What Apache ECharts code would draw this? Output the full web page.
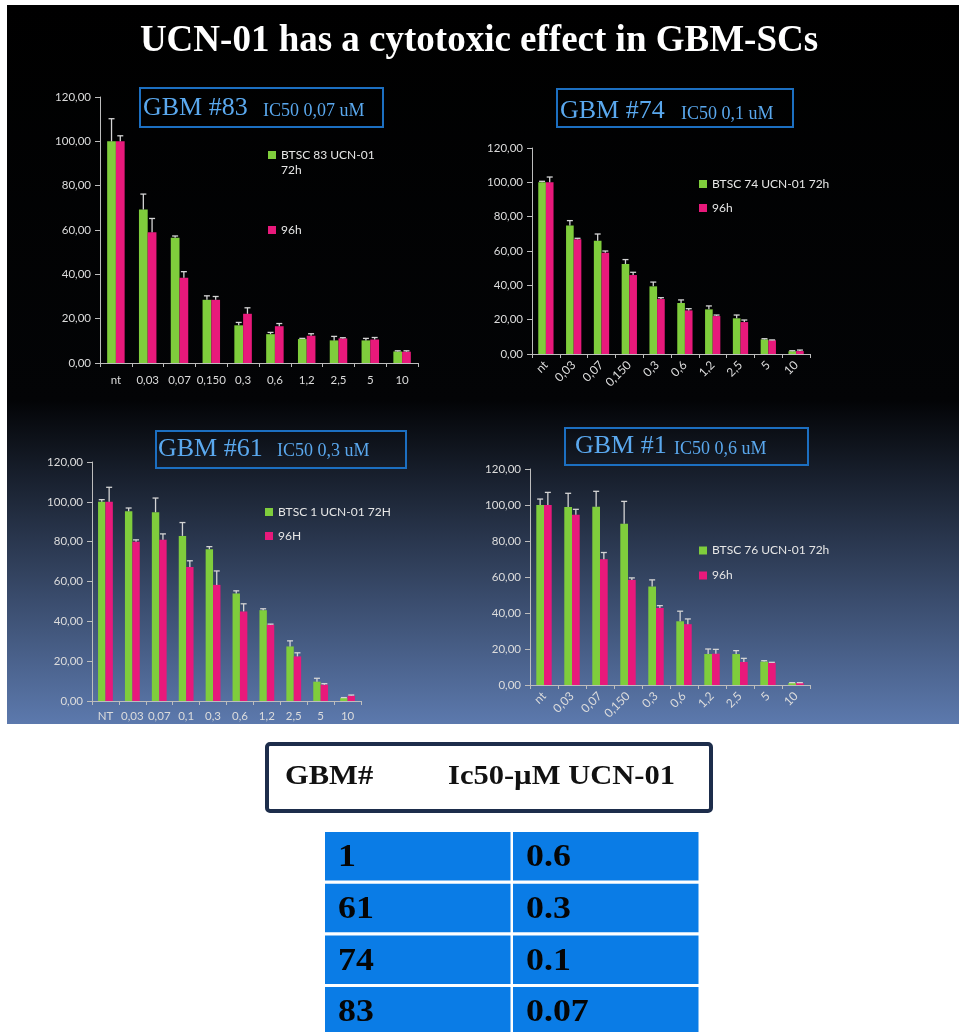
<!DOCTYPE html>
<html>
<head>
<meta charset="utf-8">
<script src="https://cdn.jsdelivr.net/npm/echarts@6/dist/echarts.min.js"></script>
<style>
  html, body { margin: 0; padding: 0; background: #ffffff; }
  #chart { width: 959px; height: 1032px; }
</style>
</head>
<body>
<div id="chart"></div>
<script>
// ---------- data ----------
const pageTitle = 'UCN-01 has a cytotoxic effect in GBM-SCs';
const yTickLabels = ['0,00', '20,00', '40,00', '60,00', '80,00', '100,00', '120,00'];

// GBM #83
const doses83 = ['nt', '0,03', '0,07', '0,150', '0,3', '0,6', '1,2', '2,5', '5', '10'];
const names83 = ['BTSC 83 UCN-01 72h', '96h'];
const h72_83 = [100, 69.3, 56.5, 28.5, 17.0, 13.0, 10.8, 10.2, 10.2, 5.2];
const h72err83 = [10.2, 6.9, 0.8, 1.8, 1.3, 0.8, 0.3, 1.8, 0.9, 0.3];
const h96_83 = [100, 59.0, 38.5, 28.5, 22.2, 16.6, 12.3, 11.1, 10.6, 5.1];
const h96err83 = [2.5, 6.2, 2.7, 1.5, 2.7, 1.2, 0.9, 0.3, 0.9, 0.4];

// GBM #74
const doses74 = ['nt', '0,03', '0,07', '0,150', '0,3', '0,6', '1,2', '2,5', '5', '10'];
const names74 = ['BTSC 74 UCN-01 72h', '96h'];
const h72_74 = [100, 74.8, 66.0, 52.4, 39.4, 29.7, 26.0, 20.8, 8.5, 1.6];
const h72err74 = [0.6, 2.9, 3.9, 2.6, 2.5, 1.8, 2.0, 1.9, 0.4, 0.3];
const h96_74 = [100, 66.8, 59.0, 46.0, 32.0, 25.4, 22.1, 18.6, 8.0, 1.7];
const h96err74 = [3.1, 0.6, 1.0, 1.6, 0.8, 1.0, 0.6, 1.2, 0.2, 0.6];

// GBM #61
const doses61 = ['NT', '0,03', '0,07', '0,1', '0,3', '0,6', '1,2', '2,5', '5', '10'];
const names61 = ['BTSC 1 UCN-01 72H', '96H'];
const h72_61 = [100, 95.3, 94.8, 82.9, 76.2, 54.0, 45.6, 27.4, 9.7, 1.5];
const h72err61 = [1.1, 1.6, 7.1, 6.7, 1.3, 1.3, 0.7, 2.8, 1.7, 0.2];
const h96_61 = [100, 80.0, 81.0, 67.3, 58.3, 45.0, 38.3, 22.4, 8.2, 2.7];
const h96err61 = [7.3, 0.9, 2.9, 3.1, 7.0, 3.8, 0.3, 1.8, 0.5, 0.3];

// GBM #1
const doses1 = ['nt', '0,03', '0,07', '0,150', '0,3', '0,6', '1,2', '2,5', '5', '10'];
const names1 = ['BTSC 76 UCN-01 72h', '96h'];
const h72_1 = [100, 98.9, 99.0, 89.6, 54.7, 35.4, 17.2, 17.2, 13.0, 1.1];
const h72err1 = [3.3, 7.6, 8.6, 12.4, 3.7, 5.6, 2.8, 1.9, 0.5, 0.2];
const h96_1 = [100, 94.6, 69.9, 58.4, 42.8, 33.8, 17.4, 12.8, 12.4, 1.1];
const h96err1 = [7.0, 3.0, 3.7, 1.1, 1.3, 2.9, 2.4, 2.0, 0.2, 0.2];

// IC50 summary table
const tableHeader = ['GBM#', 'Ic50-\u00b5M UCN-01'];
const tableGbm = ['1', '61', '74', '83'];
const tableIc50 = ['0.6', '0.3', '0.1', '0.07'];

// panel headings
const panelHeads = [
  ['GBM #83', 'IC50 0,07 uM'],
  ['GBM #74', 'IC50 0,1 uM'],
  ['GBM #61', 'IC50 0,3 uM'],
  ['GBM #1', 'IC50 0,6 uM']
];

// ---------- styling ----------
const GREEN = '#7fcd3c';
const PINK = '#e8197b';
const AXIS = '#bdbdbd';
const LABEL = '#dcdcdc';
const WHISKER = '#d4d4d4';
const HEAD_BLUE = '#5aa8ee';
const BOX_BLUE = '#1c6fc1';
const SANS = 'Lato, "Open Sans", sans-serif';
const SERIF = '"Liberation Serif", "Times New Roman", serif';
const CAT_GAP = 0.45;

// layout of the four panels
const panels = [
  { cats: doses83, names: names83, g: h72_83, ge: h72err83, p: h96_83, pe: h96err83,
    grid: { left: 100, top: 97, width: 318, height: 266 }, rotate: 0, margin: 11,
    legend: [[268, 155], [268, 230]], wrapFirst: true,
    box: [140, 88, 243, 39], head: [143, 263, 117] },
  { cats: doses74, names: names74, g: h72_74, ge: h72err74, p: h96_74, pe: h96err74,
    grid: { left: 532, top: 148, width: 278, height: 206 }, rotate: 45, margin: 9,
    legend: [[699, 184], [699, 208]], wrapFirst: false,
    box: [557, 89, 236, 38], head: [560, 681, 120] },
  { cats: doses61, names: names61, g: h72_61, ge: h72err61, p: h96_61, pe: h96err61,
    grid: { left: 92, top: 462, width: 269, height: 239 }, rotate: 0, margin: 9,
    legend: [[265, 512], [265, 536]], wrapFirst: false,
    box: [156, 431, 250, 37], head: [158, 277, 457.5] },
  { cats: doses1, names: names1, g: h72_1, ge: h72err1, p: h96_1, pe: h96err1,
    grid: { left: 530, top: 469, width: 280, height: 216 }, rotate: 45, margin: 9,
    legend: [[699, 550.5], [699, 575.5]], wrapFirst: false,
    box: [565, 428, 243, 37], head: [575, 674, 455] }
];

// upper whisker with cap, centred on its bar
function whisker(side) {
  return function (params, api) {
    const i = api.value(0);
    const base = api.coord([i, api.value(1)]);
    const top = api.coord([i, api.value(2)]);
    const band = api.size([1, 0])[0];
    const x = base[0] + side * band * (1 - CAT_GAP) / 4;
    const st = { stroke: WHISKER, lineWidth: 1.3 };
    return {
      type: 'group',
      children: [
        { type: 'line', shape: { x1: x, y1: base[1], x2: x, y2: top[1] }, style: st },
        { type: 'line', shape: { x1: x - 3, y1: top[1], x2: x + 3, y2: top[1] }, style: st }
      ]
    };
  };
}

const grids = [], xAxes = [], yAxes = [], series = [], legends = [];

panels.forEach(function (pn, k) {
  grids.push(Object.assign({ containLabel: false }, pn.grid));
  xAxes.push({
    type: 'category', gridIndex: k, data: pn.cats, boundaryGap: true,
    axisLine: { lineStyle: { color: AXIS, width: 1 } },
    axisTick: { show: true, length: 4, lineStyle: { color: AXIS } },
    axisLabel: { color: LABEL, fontFamily: SANS, fontSize: pn.rotate ? 12 : 11.5,
                 rotate: pn.rotate, margin: pn.margin, interval: 0 }
  });
  yAxes.push({
    type: 'value', gridIndex: k, min: 0, max: 120, interval: 20,
    axisLine: { show: true, lineStyle: { color: AXIS, width: 1 } },
    axisTick: { show: true, length: 5, lineStyle: { color: AXIS } },
    splitLine: { show: false },
    axisLabel: { color: LABEL, fontFamily: SANS, fontSize: 11.5, margin: 9,
                 formatter: function (v) { return yTickLabels[Math.round(v / 20)]; } }
  });
  const pairs = [[pn.names[0], pn.g, pn.ge, GREEN, -1], [pn.names[1], pn.p, pn.pe, PINK, 1]];
  pairs.forEach(function (s) {
    series.push({
      type: 'bar', name: s[0], xAxisIndex: k, yAxisIndex: k, data: s[1],
      barGap: '0%', barCategoryGap: (CAT_GAP * 100) + '%',
      itemStyle: { color: s[3] }, z: 2
    });
  });
  pairs.forEach(function (s) {
    series.push({
      type: 'custom', name: s[0] + ' error', xAxisIndex: k, yAxisIndex: k, z: 3,
      renderItem: whisker(s[4]),
      data: s[1].map(function (v, i) { return [i, v, v + s[2][i]]; }),
      tooltip: { show: false }
    });
  });
  // one legend component per entry so each can sit where it belongs
  pn.names.forEach(function (nm, j) {
    const pos = pn.legend[j];
    const multi = (j === 0 && pn.wrapFirst);
    const lh = 15;
    legends.push({
      show: true, orient: 'vertical', data: [nm], padding: 0,
      left: pos[0], top: multi ? pos[1] - 1.5 * lh : pos[1] - lh / 2,
      itemWidth: 8, itemHeight: 8, icon: 'rect', selectedMode: false,
      textStyle: { color: '#e6e6e6', fontFamily: SANS, fontSize: 12, lineHeight: lh },
      formatter: multi ? function (name) {
        const cut = name.lastIndexOf(' ');
        return '\n' + name.slice(0, cut) + '\n' + name.slice(cut + 1);
      } : '{name}'
    });
  });
});

// ---------- decorations ----------
const graphics = [];
graphics.push({
  type: 'rect', z: -10, silent: true,
  shape: { x: 7, y: 5, width: 952, height: 719 },
  style: {
    fill: new echarts.graphic.LinearGradient(0, 0, 0, 1, [
      { offset: 0, color: '#000000' },
      { offset: 0.55, color: '#030406' },
      { offset: 1, color: '#5c79ad' }
    ])
  }
});
graphics.push({
  type: 'text', z: 10, x: 479, y: 41,
  style: { text: pageTitle, fill: '#ffffff', font: 'bold 37px ' + SERIF,
           align: 'center', verticalAlign: 'middle' }
});
panels.forEach(function (pn, k) {
  const b = pn.box, h = pn.head;
  graphics.push({
    type: 'rect', z: 10, shape: { x: b[0], y: b[1], width: b[2], height: b[3] },
    style: { fill: 'rgba(0,0,0,0)', stroke: BOX_BLUE, lineWidth: 2 }
  });
  graphics.push({
    type: 'text', z: 10, x: h[0], y: h[2] - 8.5,
    style: { text: panelHeads[k][0], fill: HEAD_BLUE, font: '26px ' + SERIF,
             align: 'left', verticalAlign: 'middle' }
  });
  graphics.push({
    type: 'text', z: 10, x: h[1], y: h[2] - 6,
    style: { text: panelHeads[k][1], fill: HEAD_BLUE, font: '18px ' + SERIF,
             align: 'left', verticalAlign: 'middle' }
  });
});
// white strip below the dark panel area
graphics.push({
  type: 'rect', z: 100, silent: true,
  shape: { x: 0, y: 724, width: 959, height: 18 }, style: { fill: '#ffffff' }
});

// IC50 table: header box
graphics.push({
  type: 'rect', z: 10, shape: { x: 267, y: 744, width: 444, height: 67, r: 3 },
  style: { fill: '#ffffff', stroke: '#1d2d4b', lineWidth: 4 }
});
[[285, tableHeader[0]], [448, tableHeader[1]]].forEach(function (t) {
  graphics.push({
    type: 'text', z: 11, x: t[0], y: 777, scaleX: 1.09,
    style: { text: t[1], fill: '#111111', font: 'bold 28px ' + SERIF,
             align: 'left', verticalAlign: 'middle' }
  });
});
// IC50 table: body rows
tableGbm.forEach(function (id, i) {
  const top = 832 + i * 51.7;
  const hgt = i === tableGbm.length - 1 ? 60 : 48.5;
  [[325, id], [513, tableIc50[i]]].forEach(function (c) {
    graphics.push({
      type: 'rect', z: 10, shape: { x: c[0], y: top, width: 185.5, height: hgt },
      style: { fill: '#0a7ce6' }
    });
    graphics.push({
      type: 'text', z: 11, x: c[0] + 13, y: top + 26, scaleX: 1.12,
      style: { text: c[1], fill: '#050505', font: 'bold 32px ' + SERIF,
               align: 'left', verticalAlign: 'middle' }
    });
  });
});

const chart = echarts.init(document.getElementById('chart'), null, { renderer: 'canvas' });
chart.setOption({
  backgroundColor: '#ffffff',
  animation: false,
  grid: grids,
  xAxis: xAxes,
  yAxis: yAxes,
  legend: legends,
  series: series,
  graphic: { elements: graphics }
});
</script>
</body>
</html>
